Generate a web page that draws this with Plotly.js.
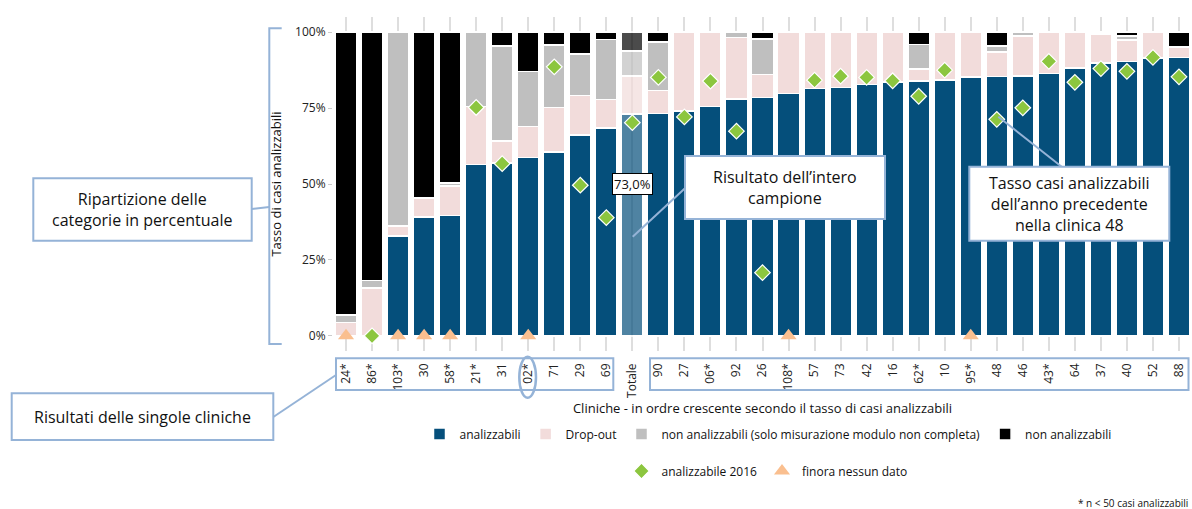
<!DOCTYPE html>
<html>
<head>
<meta charset="utf-8">
<script src="https://cdn.plot.ly/plotly-3.0.1.min.js"></script>
<style>html,body{margin:0;padding:0;background:#fff;}#chart{width:1192px;height:509px;}</style>
</head>
<body>
<div id="chart"></div>
<script>
// ---- data (percent) ----
const cliniche = ["24*","86*","103*","30","58*","21*","31","02*","71","29","69","Totale","90","27","06*","92","26","108*","57","73","42","16","62*","10","95*","48","46","43*","64","37","40","52","88"];
const analizzabili = [0,0,32.8,39.1,39.7,56.4,56.9,58.7,60.6,66.1,68.5,73.0,73.2,74.1,75.6,78.0,78.5,79.8,81.4,81.8,82.8,83.6,83.9,84.2,85.3,85.4,85.6,86.4,88.2,89.9,90.4,91.5,91.6];
const dropout = [4.4,15.7,3.3,6.3,9.6,19.2,7.3,10.3,14.6,13.1,9.3,12.6,7.6,25.9,24.4,20.3,7.6,20.2,18.6,18.2,17.2,16.4,3.9,15.8,14.7,8.1,13.2,13.6,11.8,9.5,7.0,8.5,3.6];
const nonAnalSolo = [2.5,2.6,63.9,0,1.0,24.4,31.2,18.1,20.5,13.6,19.8,8.2,16.0,0,0,1.7,11.6,0,0,0,0,0,8.2,0,0,1.9,1.2,0,0,0,1.3,0,0];
const nonAnal = [93.1,81.7,0,54.6,49.7,0,4.6,12.9,4.3,7.2,2.4,6.2,3.2,0,0,0,2.3,0,0,0,0,0,4.0,0,0,4.6,0,0,0,0.6,1.3,0,4.8];
const anal2016 = [null,0,null,null,null,75.2,56.7,null,88.6,49.6,38.9,70.2,85.1,72.1,83.9,67.4,20.8,null,84.2,85.5,85.1,84.0,78.9,87.5,null,71.3,75.1,90.4,83.5,88.0,87.1,91.7,85.3];
const nessunDato = [0,null,0,0,0,null,null,0,null,null,null,null,null,null,null,null,null,0,null,null,null,null,null,null,0,null,null,null,null,null,null,null,null];
const yTicks = [0,25,50,75,100];
const yTickText = ["0%","25%","50%","75%","100%"];

// ---- styling ----
const FONT = "Open Sans, Noto Sans, sans-serif";
const ACC = "#95b3d7";
const opac = cliniche.map(c => c === "Totale" ? 0.7 : 1);
const W = 1192, H = 509, L = 333, R = 0, T = 17, B = 158;
const PW = W - L - R, PH = H - T - B;
const px = x => (x - L) / PW;
const py = y => (H - B - y) / PH;

function barTrace(name, vals, color) {
  return {type: "bar", name: name, x: cliniche, y: vals,
    marker: {color: color, opacity: opac, line: {color: "#ffffff", width: 1.5}},
    hovertemplate: "%{x}: %{y:.1f}%<extra>" + name + "</extra>"};
}
const traces = [
  barTrace("analizzabili", analizzabili, "#054f7b"),
  barTrace("Drop-out", dropout, "#f2dcdb"),
  barTrace("non analizzabili (solo misurazione modulo non completa)", nonAnalSolo, "#bfbfbf"),
  barTrace("non analizzabili", nonAnal, "#000000"),
  {type: "scatter", mode: "markers", name: "analizzabile 2016", x: cliniche, y: anal2016,
    legend: "legend2",
    marker: {symbol: "diamond", size: 12, color: "#8cc63f", line: {color: "#ffffff", width: 1.2}}},
  {type: "scatter", mode: "markers", name: "finora nessun dato", x: cliniche, y: nessunDato,
    legend: "legend2",
    marker: {symbol: "triangle-up", size: 14, color: "#fabf8f", line: {width: 0}}}
];

const totIdx = cliniche.indexOf("Totale");
const totLabel = analizzabili[totIdx].toFixed(1).replace(".", ",") + "%";

function rect(x0, y0, x1, y1, fill) {
  return {type: "rect", xref: "paper", yref: "paper", x0: px(x0), x1: px(x1), y0: py(y0), y1: py(y1),
    line: {color: ACC, width: 2}, fillcolor: fill || "rgba(0,0,0,0)"};
}
function line(x0, y0, x1, y1) {
  return {type: "line", xref: "paper", yref: "paper", x0: px(x0), x1: px(x1), y0: py(y0), y1: py(y1),
    line: {color: ACC, width: 2}};
}
function txt(x, y, text, size) {
  return {xref: "paper", yref: "paper", x: px(x), y: py(y), text: text, showarrow: false,
    xanchor: "center", yanchor: "middle", font: {family: FONT, size: size, color: "#111"}};
}

const shapes = [
  {type: "path", xref: "paper", yref: "paper",
    path: `M${px(281.7)},${py(28.3)} L${px(269.3)},${py(28.3)} L${px(269.3)},${py(344)} L${px(281.7)},${py(344)}`,
    line: {color: ACC, width: 2}},
  line(251.7, 209, 269.3, 207),
  rect(33.3, 178.3, 251.7, 240.7, "#ffffff"),
  line(273.3, 417, 336, 375),
  rect(11.7, 393.3, 273.3, 440, "#ffffff"),
  rect(336, 358.3, 613.3, 390),
  rect(650, 358.3, 1188.5, 390),
  {type: "circle", xref: "paper", yref: "paper", x0: px(519.3), x1: px(536), y0: py(356.7), y1: py(397.7),
    line: {color: ACC, width: 2.5}},
  line(632.7, 236.7, 685, 188.3),
  rect(685, 156, 885, 219, "#ffffff"),
  line(998.3, 116.7, 1061.7, 166.7),
  rect(969.3, 166.7, 1169.3, 240.7, "#ffffff")
];

const annotations = [
  txt(142.5, 209.5, "Ripartizione delle<br>categorie in percentuale", 16),
  txt(142.5, 417, "Risultati delle singole cliniche", 16),
  txt(785, 187.5, "Risultato dell’intero<br>campione", 16),
  txt(1069.3, 203.7, "Tasso casi analizzabili<br>dell’anno precedente<br>nella clinica 48", 16),
  {xref: "x", yref: "y", x: "Totale", y: 50, text: totLabel, showarrow: false,
    bgcolor: "#ffffff", bordercolor: "#000000", borderwidth: 1, borderpad: 1,
    font: {family: FONT, size: 13, color: "#111"}},
  {xref: "paper", yref: "paper", x: px(1190), y: py(503), xanchor: "right", yanchor: "middle",
    text: "* n < 50 casi analizzabili", showarrow: false, font: {family: FONT, size: 10, color: "#111"}}
];

const layout = {
  width: W, height: H,
  margin: {l: L, r: R, t: T, b: B, pad: 0, autoexpand: false},
  paper_bgcolor: "#ffffff", plot_bgcolor: "#ffffff",
  font: {family: FONT, size: 12, color: "#222"},
  barmode: "stack", bargap: 0.17,
  showlegend: true,
  xaxis: {type: "category", categoryorder: "array", categoryarray: cliniche,
    range: [-0.5, cliniche.length - 0.5],
    showgrid: true, gridcolor: "#dedede", gridwidth: 1.5, zeroline: false, showline: false,
    ticks: "", tickangle: -90, ticklabelstandoff: 9, tickfont: {family: FONT, size: 12, color: "#222"},
    title: {text: "Cliniche - in ordre crescente secondo il tasso di casi analizzabili",
      font: {family: FONT, size: 13, color: "#111"}, standoff: 6},
    automargin: false},
  yaxis: {range: [-5, 105], tickvals: yTicks, ticktext: yTickText, showgrid: false, zeroline: false,
    showline: false, ticks: "outside", ticklen: 4, tickcolor: "#cccccc",
    tickfont: {family: FONT, size: 12, color: "#222"},
    title: {text: "Tasso di casi analizzabili", font: {family: FONT, size: 13, color: "#111"}, standoff: 10},
    automargin: false},
  legend: {orientation: "h", x: px(768), xanchor: "center", y: py(434), yanchor: "middle",
    traceorder: "normal", font: {family: FONT, size: 12, color: "#111"}, itemwidth: 30, bgcolor: "rgba(0,0,0,0)"},
  legend2: {orientation: "h", x: px(767), xanchor: "center", y: py(471), yanchor: "middle",
    traceorder: "normal", font: {family: FONT, size: 12, color: "#111"}, itemwidth: 30, bgcolor: "rgba(0,0,0,0)"},
  shapes: shapes,
  annotations: annotations,
  hovermode: "closest"
};

Plotly.newPlot("chart", traces, layout, {displayModeBar: false, staticPlot: false});
</script>
</body>
</html>
